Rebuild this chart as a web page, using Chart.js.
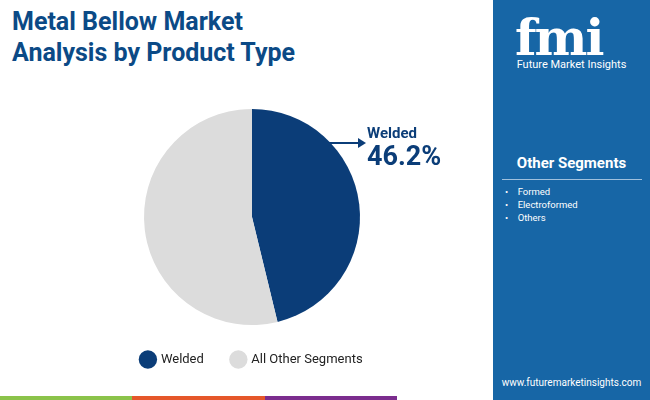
<!DOCTYPE html>
<html><head><meta charset="utf-8">
<script src="https://cdn.jsdelivr.net/npm/chart.js@4"></script>
<style>
body{margin:0;width:650px;height:400px;overflow:hidden;background:#fff;font-family:Roboto,"Open Sans",sans-serif;position:relative}
#title{position:absolute;left:12px;top:6px;font-size:25px;font-weight:700;color:#0b4a86;line-height:31px}
#panel{position:absolute;left:493px;top:0;width:157px;height:400px;background:#1766a6}
#wrap{position:absolute;left:40px;top:94px;width:424px;height:282px}
.strip{position:absolute;top:396px;height:4px}
#lbl{position:absolute;left:367px;top:124px;color:#0b3d78;font-weight:700}
</style></head><body>
<div id="title">Metal Bellow Market<br>Analysis by Product Type</div>
<div id="panel">
 <div style="position:absolute;left:22px;top:8px;font:900 50px 'DejaVu Serif',serif;color:#fff;letter-spacing:-2px">fmi</div>
 <div style="position:absolute;left:0;width:157px;top:58px;text-align:center;color:#fff;font-size:11px">Future Market Insights</div>
 <div style="position:absolute;left:0;width:157px;top:154px;text-align:center;color:#fff;font-size:15px;font-weight:700">Other Segments</div>
 <div style="position:absolute;left:9px;width:140px;top:179px;height:1px;background:#9fc0dd"></div>
 <div style="position:absolute;left:12px;top:185px;color:#fff;font-size:9.5px;line-height:13px">•&nbsp;&nbsp;&nbsp;&nbsp;Formed<br>•&nbsp;&nbsp;&nbsp;&nbsp;Electroformed<br>•&nbsp;&nbsp;&nbsp;&nbsp;Others</div>
 <div style="position:absolute;left:0;width:157px;top:377px;text-align:center;color:#fff;font-size:10px">www.futuremarketinsights.com</div>
</div>
<div class="strip" style="left:0;width:132px;background:#8bc34a"></div>
<div class="strip" style="left:132px;width:133px;background:#e5572a"></div>
<div class="strip" style="left:265px;width:132px;background:#7b2d8e"></div>
<div id="wrap"><canvas id="c"></canvas></div>
<svg style="position:absolute;left:328px;top:136px" width="40" height="14"><line x1="0" y1="7" x2="32" y2="7" stroke="#0b3d78" stroke-width="2"/><polygon points="30,2 38,7 30,12" fill="#0b3d78"/></svg>
<div id="lbl"><div style="font-size:15px">Welded</div><div style="font-size:27px;margin-top:-2px">46.2%</div></div>
<script>
const categories=["Welded","All Other Segments"];
const values=[46.2,53.8];
const colors=["#0b3d78","#dcdcdc"];
new Chart(document.getElementById('c'),{type:'pie',
data:{labels:categories,datasets:[{data:values,backgroundColor:colors,borderWidth:0}]},
options:{responsive:true,maintainAspectRatio:false,animation:false,
layout:{padding:{top:15,bottom:0}},
plugins:{tooltip:{enabled:false},
legend:{position:'bottom',labels:{usePointStyle:true,pointStyle:'circle',boxWidth:18,boxHeight:18,padding:28,color:'#222',font:{family:'Roboto',size:13}}}}}});
</script></body></html>
